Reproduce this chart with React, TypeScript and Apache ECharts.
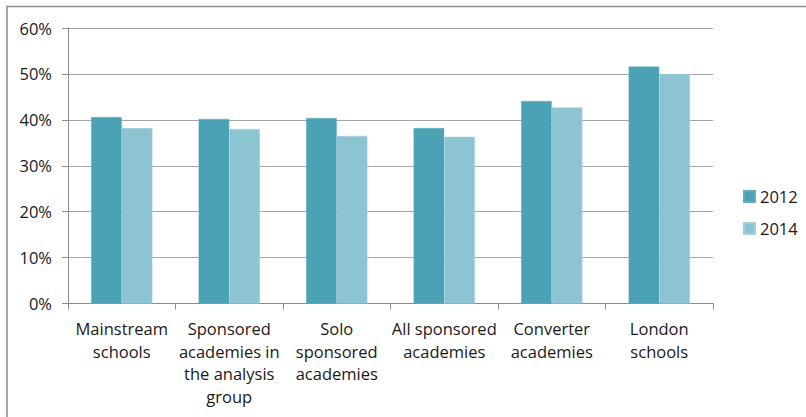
import React, { useEffect, useRef } from "react";
import * as echarts from "echarts";

const categories = [
  "Mainstream schools",
  "Sponsored academies in the analysis group",
  "Solo sponsored academies",
  "All sponsored academies",
  "Converter academies",
  "London schools",
];
const categoryLabels = [
  "Mainstream\nschools",
  "Sponsored\nacademies in\nthe analysis\ngroup",
  "Solo\nsponsored\nacademies",
  "All sponsored\nacademies",
  "Converter\nacademies",
  "London\nschools",
];
const seriesNames = ["2012", "2014"];
const values2012 = [40.6, 40.2, 40.4, 38.2, 44.1, 51.6];
const values2014 = [38.2, 38.0, 36.5, 36.3, 42.7, 50.0];
const yTicks = [0, 10, 20, 30, 40, 50, 60];

const FONT = "'Open Sans', Lato, sans-serif";
const TEXT = "#1a1a1a";

export default function App() {
  const ref = useRef<HTMLDivElement>(null);
  useEffect(() => {
    if (!ref.current) return;
    const chart = echarts.init(ref.current, null, { renderer: "svg" });
    chart.setOption({
      animation: false,
      backgroundColor: "#ffffff",
      graphic: [
        {
          type: "polyline",
          shape: { points: [[7, 420], [7, 6.5], [810, 6.5]] },
          style: { stroke: "#8c8c8c", lineWidth: 1.5, fill: "none" },
        },
      ],
      grid: { left: 68, right: 93, top: 28, bottom: 113.5 },
      legend: {
        orient: "vertical",
        left: 738,
        top: 183,
        itemWidth: 11,
        itemHeight: 11,
        itemGap: 15,
        icon: "rect",
        textStyle: { fontFamily: FONT, fontSize: 16.5, color: TEXT },
        data: seriesNames,
      },
      xAxis: {
        type: "category",
        data: categories,
        axisLine: { lineStyle: { color: "#8c8c8c", width: 1 } },
        axisTick: { show: true, length: 6, lineStyle: { color: "#8c8c8c" } },
        axisLabel: {
          interval: 0,
          margin: 14,
          lineHeight: 22.5,
          fontFamily: FONT,
          fontSize: 16.5,
          color: TEXT,
          formatter: (_v: string, i: number) => categoryLabels[i],
        },
      },
      yAxis: {
        type: "value",
        min: yTicks[0],
        max: yTicks[yTicks.length - 1],
        interval: 10,
        axisLine: { show: true, lineStyle: { color: "#8c8c8c", width: 1 } },
        axisTick: { show: true, inside: false, length: 6, lineStyle: { color: "#8c8c8c" } },
        splitLine: { lineStyle: { color: "#a6a6a6", width: 1 } },
        axisLabel: {
          margin: 16,
          fontFamily: FONT,
          fontSize: 16.5,
          color: TEXT,
          formatter: (v: number) => `${v}%`,
        },
      },
      series: [
        {
          name: seriesNames[0],
          type: "bar",
          data: values2012,
          barGap: "0%",
          barCategoryGap: "43%",
          itemStyle: { color: "#4aa2b4", borderColor: "#5fb0c0", borderWidth: 0.5 },
        },
        {
          name: seriesNames[1],
          type: "bar",
          data: values2014,
          barGap: "0%",
          barCategoryGap: "43%",
          itemStyle: { color: "#8cc4d2", borderColor: "#a0d0dc", borderWidth: 0.5 },
        },
      ],
    });
    return () => chart.dispose();
  }, []);
  return <div ref={ref} style={{ width: 806, height: 417, position: "absolute", left: 0, top: 0 }} />;
}
